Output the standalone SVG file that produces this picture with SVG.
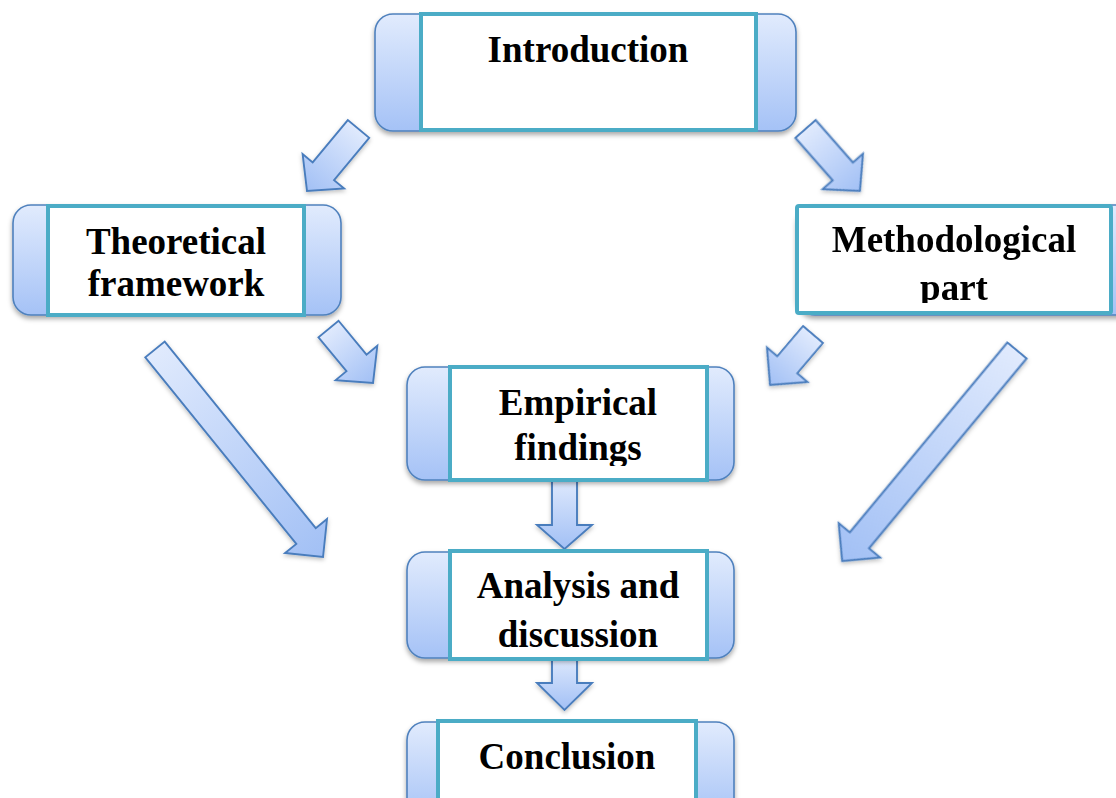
<svg xmlns="http://www.w3.org/2000/svg" width="1116" height="798" viewBox="0 0 1116 798">
  <defs>
    <linearGradient id="tabFill" x1="0" y1="0" x2="0" y2="1">
      <stop offset="0" stop-color="#e1ebfd"/>
      <stop offset="1" stop-color="#a5c2f6"/>
    </linearGradient>
    <linearGradient id="arrowFill" x1="0" y1="0" x2="1" y2="0">
      <stop offset="0" stop-color="#e0eafd"/>
      <stop offset="1" stop-color="#a2c0f5"/>
    </linearGradient>
    <filter id="shadow" x="-10%" y="-10%" width="120%" height="130%">
      <feDropShadow dx="0" dy="3" stdDeviation="2.5" flood-color="#000" flood-opacity="0.35"/>
    </filter>
    <filter id="arrowShadow" x="-20%" y="-20%" width="140%" height="140%">
      <feDropShadow dx="0" dy="2" stdDeviation="2" flood-color="#000" flood-opacity="0.25"/>
    </filter>
    <clipPath id="clipMethod"><rect x="797" y="206" width="314" height="97"/></clipPath>
    <clipPath id="clipEmpirical"><rect x="450" y="367" width="257" height="99"/></clipPath>
    <style>
      .tab { fill: url(#tabFill); stroke: #4f81bd; stroke-width: 1.6; }
      .card { fill: #ffffff; stroke: #4bacc6; stroke-width: 4; }
      .arrow { fill: url(#arrowFill); stroke: #4a7dbd; stroke-width: 1.9; stroke-linejoin: miter; }
      .label { font-family: "Liberation Serif", "Times New Roman", serif; font-weight: bold; font-size: 37px; fill: #000; text-anchor: middle; }
    </style>
  </defs>

  <rect width="1116" height="798" fill="#ffffff"/>

  <!-- block arrows: each drawn along +x from its tail, then placed and rotated -->
  <g id="connectors" filter="url(#arrowShadow)">
    <!-- Introduction -> Theoretical framework -->
    <path class="arrow" transform="translate(358.5,129) rotate(129.7)" d="M0,-13.9 L55,-13.9 L55,-27 L80.6,0 L55,27 L55,13.9 L0,13.9 Z"/>
    <!-- Introduction -> Methodological part -->
    <path class="arrow" transform="translate(805.5,129) rotate(48.7)" d="M0,-13.5 L56.5,-13.5 L56.5,-27 L82.5,0 L56.5,27 L56.5,13.5 L0,13.5 Z"/>
    <!-- Theoretical framework -> Empirical findings -->
    <path class="arrow" transform="translate(328.5,329) rotate(50.5)" d="M0,-13 L44,-13 L44,-27 L70,0 L44,27 L44,13 L0,13 Z"/>
    <!-- Methodological part -> Empirical findings -->
    <path class="arrow" transform="translate(813,334.5) rotate(130.4)" d="M0,-13.1 L39.7,-13.1 L39.7,-26.7 L66.3,0 L39.7,26.7 L39.7,13.1 L0,13.1 Z"/>
    <!-- Theoretical framework -> Analysis and discussion -->
    <path class="arrow" transform="translate(155,349.5) rotate(51)" d="M0,-12.5 L240,-12.5 L240,-27 L267,0 L240,27 L240,12.5 L0,12.5 Z"/>
    <!-- Methodological part -> Analysis and discussion -->
    <path class="arrow" transform="translate(1017,350.5) rotate(129.7)" d="M0,-12.5 L246.7,-12.5 L246.7,-27 L273.7,0 L246.7,27 L246.7,12.5 L0,12.5 Z"/>
    <!-- Empirical findings -> Analysis and discussion -->
    <path class="arrow" transform="translate(564.5,478) rotate(90)" d="M0,-12.5 L47,-12.5 L47,-27.5 L71,0 L47,27.5 L47,12.5 L0,12.5 Z"/>
    <!-- Analysis and discussion -> Conclusion -->
    <path class="arrow" transform="translate(564.5,656) rotate(90)" d="M0,-12.5 L27,-12.5 L27,-27.5 L54,0 L27,27.5 L27,12.5 L0,12.5 Z"/>
  </g>

  <g id="node-introduction">
    <rect class="tab" x="375" y="14" width="421" height="117" rx="18" filter="url(#shadow)"/>
    <rect class="card" x="421" y="14" width="335" height="116"/>
    <text class="label" x="588" y="62">Introduction</text>
  </g>

  <g id="node-theoretical">
    <rect class="tab" x="13" y="205" width="328" height="110" rx="18" filter="url(#shadow)"/>
    <rect class="card" x="48" y="206" width="256" height="109"/>
    <text class="label" x="176" y="254">Theoretical</text>
    <text class="label" x="176" y="296">framework</text>
  </g>

  <g id="node-methodological">
    <rect class="tab" x="797" y="205" width="360" height="110" rx="18" filter="url(#shadow)"/>
    <rect class="card" x="797" y="206" width="314" height="107" rx="2"/>
    <g clip-path="url(#clipMethod)">
      <text class="label" x="954" y="252">Methodological</text>
      <text class="label" x="954" y="300">part</text>
    </g>
  </g>

  <g id="node-empirical">
    <rect class="tab" x="407" y="367" width="327" height="113" rx="18" filter="url(#shadow)"/>
    <rect class="card" x="450" y="367" width="257" height="113"/>
    <g clip-path="url(#clipEmpirical)">
      <text class="label" x="578" y="415">Empirical</text>
      <text class="label" x="578" y="460">findings</text>
    </g>
  </g>

  <g id="node-analysis">
    <rect class="tab" x="407" y="552" width="327" height="106" rx="18" filter="url(#shadow)"/>
    <rect class="card" x="450" y="551" width="257" height="108"/>
    <text class="label" x="578" y="598">Analysis and</text>
    <text class="label" x="578" y="647">discussion</text>
  </g>

  <g id="node-conclusion">
    <rect class="tab" x="407" y="722" width="327" height="100" rx="18" filter="url(#shadow)"/>
    <rect class="card" x="438" y="721" width="258" height="100"/>
    <text class="label" x="567" y="769">Conclusion</text>
  </g>
</svg>
